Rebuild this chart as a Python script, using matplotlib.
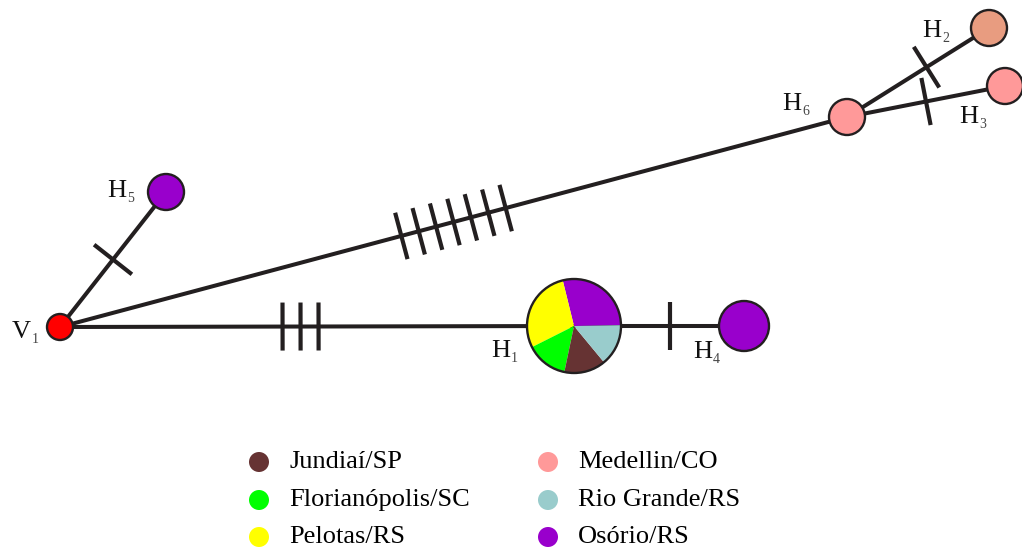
import numpy as np
import matplotlib
matplotlib.use("Agg")
import matplotlib.pyplot as plt
from matplotlib.patches import Circle, Wedge

plt.rcParams["font.family"] = ["Liberation Serif", "DejaVu Serif"]

# Populations and their colours
populations = ["Jundiaí/SP", "Florianópolis/SC", "Pelotas/RS",
               "Medellin/CO", "Rio Grande/RS", "Osório/RS"]
pop_colors = ["#663333", "#00FF00", "#FFFF00", "#FF9999", "#99CCCC", "#9900CC"]

# Haplotype nodes (drawing coordinates) and sizes
node_names = ["V1", "H1", "H2", "H3", "H4", "H5", "H6"]
node_x = [60, 574, 989, 1005, 744, 166, 847]
node_y = [327, 326, 28, 86, 326, 192, 117]
node_r = [13, 47, 18, 18, 25, 18, 18]
node_fill = ["#FF0000", None, "#E89C80", "#FF9999", "#9900CC", "#9900CC", "#FF9999"]

# Composition of the shared haplotype H1 (counterclockwise order)
h1_pops = ["Osório/RS", "Pelotas/RS", "Florianópolis/SC", "Jundiaí/SP", "Rio Grande/RS"]
h1_counts = [2, 2, 1, 1, 1]

# Network edges and number of mutational steps
edge_from = ["V1", "V1", "V1", "H1", "H6", "H6"]
edge_to = ["H1", "H6", "H5", "H4", "H2", "H3"]
edge_steps = [3, 7, 1, 1, 1, 1]
edge_mark_pos = [0.468, 0.50, 0.50, 0.565, 0.56, 0.50]

LINE = "#231F20"

fig = plt.figure(figsize=(10.22, 5.54), dpi=100)
ax = fig.add_axes([0, 0, 1, 1])
ax.set_xlim(0, 1022)
ax.set_ylim(554, 0)
ax.set_aspect("equal")
ax.axis("off")

pos = {n: np.array([x, y], float) for n, x, y in zip(node_names, node_x, node_y)}
rad = dict(zip(node_names, node_r))

# edges with mutation ticks
for a, b, k, f in zip(edge_from, edge_to, edge_steps, edge_mark_pos):
    p, q = pos[a], pos[b]
    ax.plot([p[0], q[0]], [p[1], q[1]], color=LINE, lw=2.9, zorder=1,
            solid_capstyle="butt")
    d = (q - p) / np.linalg.norm(q - p)
    nrm = np.array([-d[1], d[0]])
    centre = p + f * (q - p)
    gap = 18
    for i in range(k):
        c = centre + (i - (k - 1) / 2) * gap * d
        e1, e2 = c - 24 * nrm, c + 24 * nrm
        ax.plot([e1[0], e2[0]], [e1[1], e2[1]], color=LINE, lw=3.0,
                zorder=2, solid_capstyle="butt")

# plain haplotype circles
for n, fc in zip(node_names, node_fill):
    if fc is None:
        continue
    ax.add_patch(Circle(pos[n], rad[n], facecolor=fc, edgecolor=LINE,
                        lw=1.7, zorder=3))

# pie for H1 (y axis is inverted, so angles are negated)
col = dict(zip(populations, pop_colors))
total = sum(h1_counts)
start = 1.0
for p_name, cnt in zip(h1_pops, h1_counts):
    span = 360.0 * cnt / total
    ax.add_patch(Wedge(pos["H1"], rad["H1"], -(start + span), -start,
                       facecolor=col[p_name], edgecolor="none", zorder=3))
    start += span
ax.add_patch(Circle(pos["H1"], rad["H1"], facecolor="none", edgecolor=LINE,
                    lw=1.7, zorder=4))

# node labels
label_text = ["V", "H", "H", "H", "H", "H", "H"]
label_sub = ["1", "1", "2", "3", "4", "5", "6"]
label_x = [12, 491, 922, 959, 693, 107, 782]
label_y = [338, 357, 37, 123, 358, 197, 110]
for t, s, x, y in zip(label_text, label_sub, label_x, label_y):
    txt = ax.text(x, y, t, fontsize=19, color="#111111", ha="left",
                  va="baseline", zorder=5)
    fig.canvas.draw()
    bb = txt.get_window_extent()
    x_end = bb.x1
    xd, _ = ax.transData.inverted().transform((x_end, 0))
    ax.text(xd + 1, y + 5, s, fontsize=10, color="#444444", ha="left",
            va="baseline", zorder=5)

# legend
col1_x, col2_x = 259, 548
row_y = [462, 500, 537]
for i, (name, c) in enumerate(zip(populations, pop_colors)):
    cx = col1_x if i < 3 else col2_x
    cy = row_y[i % 3]
    ax.add_patch(Circle((cx, cy), 10, facecolor=c, edgecolor="none", zorder=3))
    ax.text(cx + 30, cy, name, fontsize=19, color="black", ha="left",
            va="center")

fig.savefig("out.png", dpi=100)
